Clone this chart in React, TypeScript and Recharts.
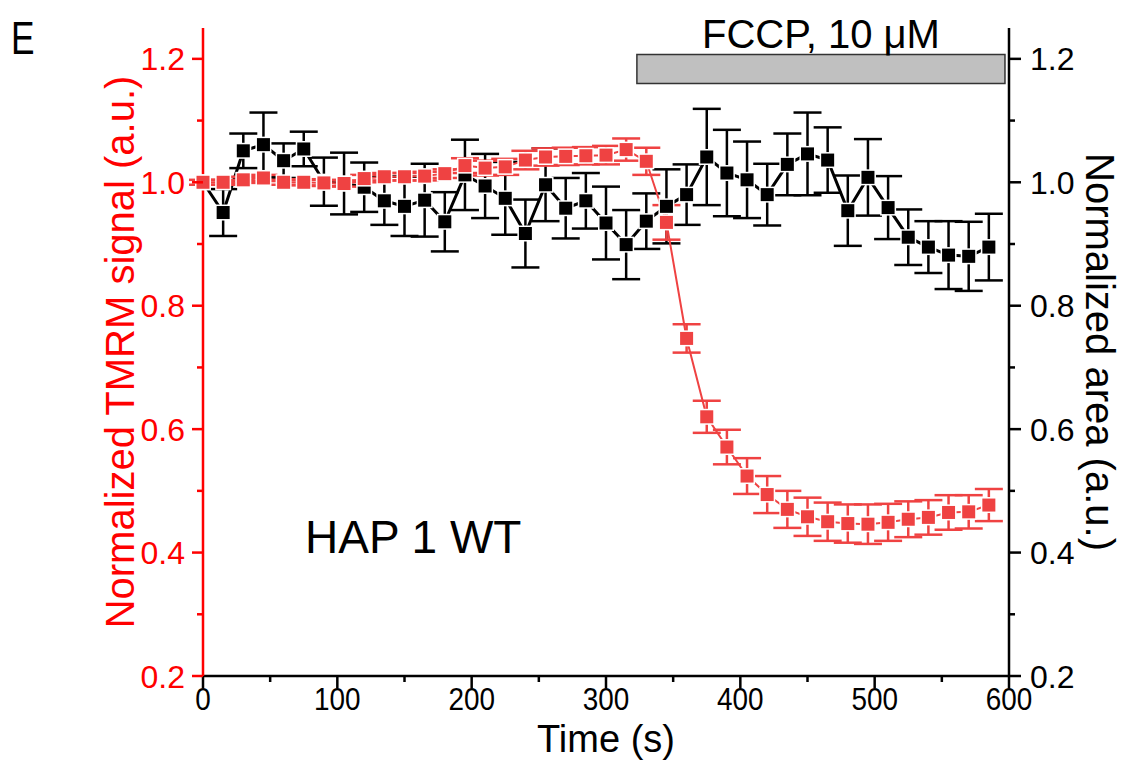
import { ComposedChart, Line, XAxis, YAxis, ErrorBar, ReferenceArea } from "recharts";

const FONT = '"Liberation Sans", Arial, sans-serif';
const RED_AXIS = "#FF0000";
const RED = "#EF4242";

// time points (s)
const times = [
  0, 15, 30, 45, 60, 75, 90, 105, 120, 135, 150, 165, 180, 195, 210, 225, 240, 255, 270, 285,
  300, 315, 330, 345, 360, 375, 390, 405, 420, 435, 450, 465, 480, 495, 510, 525, 540, 555, 570, 585,
];

// Normalized TMRM signal (left axis)
const tmrm = [
  1.0, 1.0, 1.004, 1.007, 1.0, 1.0, 0.999, 0.998, 1.006, 1.009, 1.009, 1.01, 1.014, 1.027, 1.023, 1.025,
  1.036, 1.041, 1.042, 1.043, 1.044, 1.053, 1.034, 0.935, 0.747, 0.62, 0.571, 0.524, 0.494, 0.47, 0.458,
  0.45, 0.447, 0.446, 0.449, 0.454, 0.457, 0.465, 0.466, 0.477,
];
const tmrmErr = [
  0.004, 0.004, 0.005, 0.005, 0.004, 0.005, 0.005, 0.005, 0.006, 0.006, 0.006, 0.007, 0.007, 0.012, 0.012,
  0.013, 0.015, 0.014, 0.014, 0.014, 0.015, 0.018, 0.022, 0.028, 0.023, 0.026, 0.028, 0.029, 0.03, 0.03,
  0.031, 0.031, 0.031, 0.032, 0.03, 0.029, 0.028, 0.028, 0.027, 0.026,
];

// Normalized area (right axis)
const area = [
  1.0, 0.951, 1.051, 1.061, 1.035, 1.054, 1.001, 0.998, 0.992, 0.97, 0.961, 0.971, 0.936, 1.012, 0.994,
  0.974, 0.917, 0.996, 0.958, 0.97, 0.934, 0.899, 0.937, 0.961, 0.98, 1.041, 1.015, 1.004, 0.98, 1.029,
  1.046, 1.036, 0.954, 1.008, 0.959, 0.911, 0.895, 0.882, 0.88, 0.895,
];
const areaErr = [
  0, 0.038, 0.028, 0.052, 0.028, 0.028, 0.039, 0.05, 0.04, 0.039, 0.048, 0.059, 0.048, 0.057, 0.052,
  0.059, 0.055, 0.059, 0.049, 0.045, 0.059, 0.056, 0.045, 0.06, 0.049, 0.078, 0.07, 0.062, 0.05, 0.05,
  0.067, 0.053, 0.057, 0.062, 0.051, 0.045, 0.042, 0.055, 0.056, 0.054,
];

const xTicks = [0, 50, 100, 150, 200, 250, 300, 350, 400, 450, 500, 550, 600];
const yTicks = [0.2, 0.3, 0.4, 0.5, 0.6, 0.7, 0.8, 0.9, 1.0, 1.1, 1.2];

const data = times.map((t, i) => ({
  t,
  tmrm: tmrm[i],
  tmrmErr: tmrmErr[i],
  area: area[i],
  areaErr: areaErr[i],
}));

function LeftTick(props: any) {
  const { x, y, payload } = props;
  const major = Math.round(payload.value * 10) % 2 === 0;
  return (
    <g>
      <line x1={x} x2={x - (major ? 11 : 6)} y1={y} y2={y} stroke={RED_AXIS} strokeWidth={2.5} />
      {major && (
        <text x={x - 18} y={y} dy="0.36em" textAnchor="end" fill={RED_AXIS} fontSize={32} fontFamily={FONT}>
          {payload.value.toFixed(1)}
        </text>
      )}
    </g>
  );
}

function RightTick(props: any) {
  const { x, y, payload } = props;
  const major = Math.round(payload.value * 10) % 2 === 0;
  return (
    <g>
      <line x1={x} x2={x + (major ? 12 : 6)} y1={y} y2={y} stroke="#000" strokeWidth={2.5} />
      {major && (
        <text x={x + 21} y={y} dy="0.36em" textAnchor="start" fill="#000" fontSize={32} fontFamily={FONT}>
          {payload.value.toFixed(1)}
        </text>
      )}
    </g>
  );
}

function BottomTick(props: any) {
  const { x, y, payload } = props;
  const major = payload.value % 100 === 0;
  return (
    <g>
      <line x1={x} x2={x} y1={y} y2={y + (major ? 12 : 6)} stroke="#000" strokeWidth={2.5} />
      {major && (
        <text
          transform={`translate(${x},${y + 34}) scale(0.9,1)`}
          textAnchor="middle"
          fill="#000"
          fontSize={31}
          fontFamily={FONT}
        >
          {payload.value}
        </text>
      )}
    </g>
  );
}

const square = (color: string) => (p: any) => (
  <rect
    key={`sq-${color}-${p.index}`}
    x={p.cx - 6.5}
    y={p.cy - 6.5}
    width={13}
    height={13}
    fill={color}
    stroke="#fff"
    strokeWidth={3}
    paintOrder="stroke"
  />
);

export default function App() {
  return (
    <div style={{ position: "absolute", left: 0, top: 0, width: 1127, height: 772, background: "#fff" }}>
      <ComposedChart width={1127} height={772} data={data} margin={{ top: 28, right: 0, bottom: 0, left: 0 }}>
        <XAxis
          dataKey="t"
          type="number"
          domain={[0, 600]}
          ticks={xTicks}
          interval={0}
          height={96}
          stroke="#000"
          strokeWidth={2.5}
          tickSize={0}
          tickMargin={0}
          tickLine={false}
          tick={<BottomTick />}
          label={{
            content: (p: any) => {
              const vb = p.viewBox;
              return (
                <text x={vb.x + vb.width / 2} y={vb.y + 76} textAnchor="middle" fontSize={38} fontFamily={FONT} fill="#000">
                  Time (s)
                </text>
              );
            },
          }}
        />
        <YAxis
          yAxisId="left"
          orientation="left"
          domain={[0.2, 1.25]}
          ticks={yTicks}
          interval={0}
          width={203}
          stroke={RED_AXIS}
          strokeWidth={2.5}
          tickSize={0}
          tickMargin={0}
          tickLine={false}
          tick={<LeftTick />}
          label={{
            content: (p: any) => {
              const vb = p.viewBox;
              const cx = vb.x + 120;
              const cy = vb.y + vb.height / 2;
              return (
                <text
                  transform={`translate(${cx},${cy}) rotate(-90)`}
                  dy="0.35em"
                  textAnchor="middle"
                  fontSize={40}
                  fontFamily={FONT}
                  fill={RED_AXIS}
                >
                  Normalized TMRM signal (a.u.)
                </text>
              );
            },
          }}
        />
        <YAxis
          yAxisId="right"
          orientation="right"
          domain={[0.2, 1.25]}
          ticks={yTicks}
          interval={0}
          width={118}
          stroke="#000"
          strokeWidth={2.5}
          tickSize={0}
          tickMargin={0}
          tickLine={false}
          tick={<RightTick />}
          label={{
            content: (p: any) => {
              const vb = p.viewBox;
              const cx = vb.x + 91;
              const cy = vb.y + vb.height / 2;
              return (
                <text
                  transform={`translate(${cx},${cy}) rotate(90)`}
                  dy="0.35em"
                  textAnchor="middle"
                  fontSize={40}
                  fontFamily={FONT}
                  fill="#000"
                >
                  Normalized area (a.u.)
                </text>
              );
            },
          }}
        />
        <ReferenceArea
          yAxisId="right"
          x1={323}
          x2={597}
          y1={1.16}
          y2={1.207}
          fill="#C0C0C0"
          fillOpacity={1}
          stroke="#333"
          strokeWidth={1.5}
          ifOverflow="visible"
          label={{ value: "FCCP, 10 \u03bcM", position: "top", offset: 7, fontSize: 40, fontFamily: FONT, fill: "#000" }}
        />
        <Line
          yAxisId="right"
          dataKey="area"
          type="linear"
          stroke="#000"
          strokeWidth={3}
          dot={square("#000")}
          activeDot={false}
          isAnimationActive={false}
        >
          <ErrorBar dataKey="areaErr" direction="y" width={14} stroke="#000" strokeWidth={2.5} />
        </Line>
        <Line
          yAxisId="left"
          dataKey="tmrm"
          type="linear"
          stroke={RED}
          strokeWidth={2}
          dot={square(RED)}
          activeDot={false}
          isAnimationActive={false}
        >
          <ErrorBar dataKey="tmrmErr" direction="y" width={14} stroke={RED} strokeWidth={2.5} />
        </Line>
      </ComposedChart>
      <svg width={1127} height={772} style={{ position: "absolute", left: 0, top: 0, pointerEvents: "none" }}>
        <text transform="translate(11,54) scale(0.75,1)" fontSize={47} fontFamily={FONT} fill="#000">
          E
        </text>
        <text x={305} y={553} fontSize={46} fontFamily={FONT} fill="#000">
          HAP 1 WT
        </text>
      </svg>
    </div>
  );
}
